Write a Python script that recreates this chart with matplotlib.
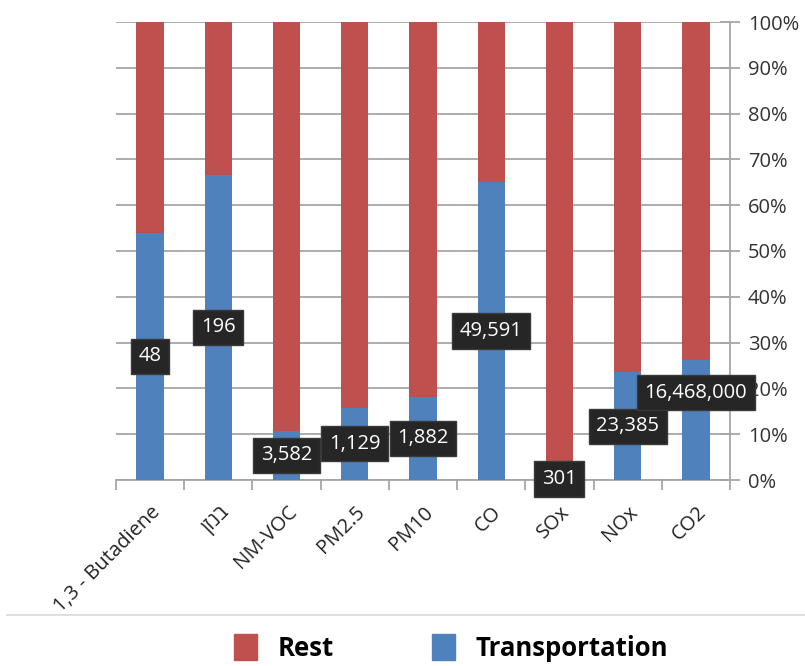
import matplotlib
matplotlib.use("Agg")
import matplotlib.pyplot as plt
from matplotlib.patches import Patch
from matplotlib.lines import Line2D
import numpy as np

plt.rcParams["font.family"] = ["Open Sans", "DejaVu Sans"]

# Pollutants (Hebrew label written in visual order, right-to-left)
categories = ["1,3 - Butadiene", "ןזנב", "NM-VOC", "PM2.5", "PM10", "CO", "SOx", "NOx", "CO2"]
# Share of emissions from transportation, percent
transport_pct = [54.0, 66.7, 10.7, 15.8, 18.2, 65.1, 0.5, 23.5, 26.2]
# Emission quantities attributed to transportation
transport_amount = ["48", "196", "3,582", "1,129", "1,882", "49,591", "301", "23,385", "16,468,000"]
y_ticks = [0, 10, 20, 30, 40, 50, 60, 70, 80, 90, 100]

rest_pct = [100 - v for v in transport_pct]

RED = "#C0504D"
BLUE = "#4F81BD"
GRID = "#a6a6a6"
FS = 14.5

fig = plt.figure(figsize=(8.05, 6.66), dpi=100)
ax = fig.add_axes([116 / 805, 1 - 480 / 666, (730 - 116) / 805, (480 - 22) / 666])

x = np.arange(len(categories))
ax.bar(x, transport_pct, width=0.4, color=BLUE, zorder=3)
ax.bar(x, rest_pct, bottom=transport_pct, width=0.4, color=RED, zorder=3)

ax.set_xlim(-0.5, len(categories) - 0.5)
ax.set_ylim(0, 100)

# Right-hand percentage axis
ax.yaxis.tick_right()
ax.set_yticks(y_ticks)
ax.set_yticklabels([f"{v}%" for v in y_ticks], fontsize=FS, color="#333333")
ax.tick_params(axis="y", direction="inout", length=14, width=1.3, color=GRID, pad=6)
ax.yaxis.grid(True, color=GRID, linewidth=1.3, zorder=0)

# Category axis: ticks at boundaries, labels at centres
ax.set_xticks(np.arange(len(categories) + 1) - 0.5)
ax.set_xticklabels([])
ax.set_xticks(x, minor=True)
ax.set_xticklabels(categories, minor=True, rotation=45, ha="right",
                   rotation_mode="anchor", fontsize=FS, color="#222222")
ax.tick_params(axis="x", which="major", direction="out", length=7, width=1.3, color=GRID)
ax.tick_params(axis="x", which="minor", length=0, pad=16)

for side in ["top", "left"]:
    ax.spines[side].set_visible(False)
for side in ["bottom", "right"]:
    ax.spines[side].set_color(GRID)
    ax.spines[side].set_linewidth(1.3)

# Value labels centred on the transportation segment
nudge = {"CO2": 6.0}
for i, (cat, pct, amt) in enumerate(zip(categories, transport_pct, transport_amount)):
    ypos = pct / 2 + nudge.get(cat, 0.0)
    ax.text(i, ypos, amt, ha="center", va="center", fontsize=FS, color="white",
            zorder=5, clip_on=False,
            bbox=dict(boxstyle="square,pad=0.38", facecolor="#262626", edgecolor="#3a3a3a"))

# Separator above the legend
fig.add_artist(Line2D([7 / 805, 1.0], [1 - 615 / 666, 1 - 615 / 666],
                      color="#d9d9d9", linewidth=1.2))

handles = [Patch(facecolor=RED, edgecolor=RED, label="Rest"),
           Patch(facecolor=BLUE, edgecolor=BLUE, label="Transportation")]
fig.legend(handles=handles, loc="center", bbox_to_anchor=(451 / 805, 1 - 648 / 666),
           ncol=2, frameon=False, prop={"weight": "bold", "size": 18.5},
           handlelength=0.9, handleheight=1.2, handletextpad=0.8, columnspacing=3.8)

fig.savefig("out.png", dpi=100)
